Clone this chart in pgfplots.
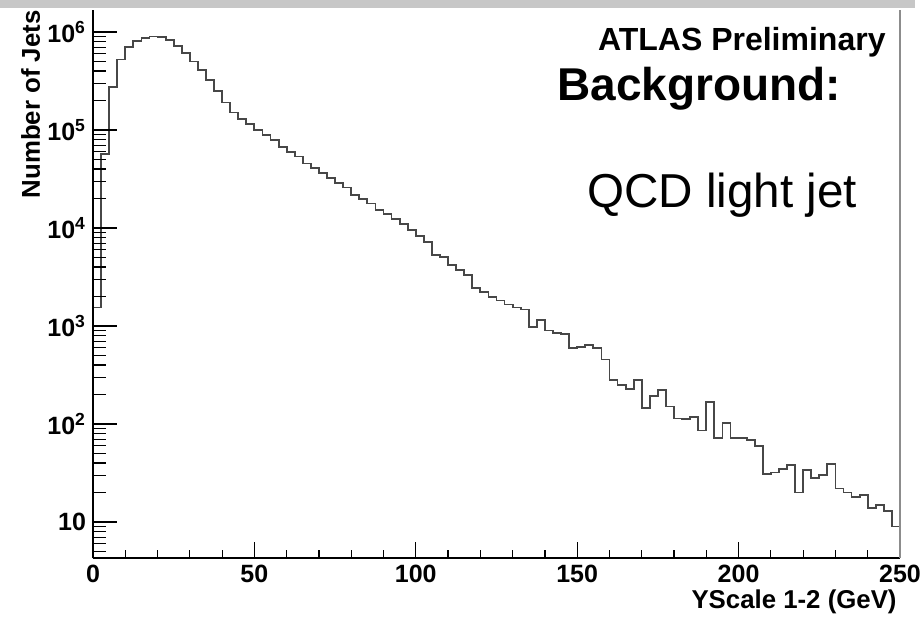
\documentclass[border=0pt]{standalone}
\usepackage{fontspec}
\setmainfont{Liberation Sans}
\usepackage{pgfplots}
\pgfplotsset{compat=1.18}
\begin{document}
\begin{tikzpicture}
\useasboundingbox (-46.5pt,-30pt) rectangle (415pt,279pt);
\fill[black!22] (-46.5pt,275pt) rectangle (411pt,279pt);
\begin{axis}[
  scale only axis, width=403.5pt, height=274pt,
  xmin=0, xmax=250, ymode=log, ymin=4.3, ymax=1.68e6,
  axis x line*=bottom, axis y line*=left,
  ytick=\empty,
  xtick={0,50,100,150,200,250}, minor x tick num=4,
  tick align=inside, major tick length=8pt, minor tick length=4pt,
  tick style={black, line width=0.6pt},
  axis line style={black, line width=0.75pt},
  /pgf/number format/assume math mode=true,
  xticklabel style={font=\fontsize{12.5}{14}\selectfont\bfseries},
  xlabel={YScale 1-2 (GeV)},
  xlabel style={at={(rel axis cs:1,0)}, anchor=base east, inner sep=0pt, xshift=-1.5pt, yshift=-25pt, font=\fontsize{12.9}{15}\selectfont\bfseries},
  clip=false,
]
\addplot[const plot mark left, black!72, line width=0.9pt] coordinates {
(0,1550)(2.5,57500)(5,275000)(7.5,525000)(10,708000)(12.5,813000)(15,871000)(17.5,902000)(20,891000)(22.5,832000)
(25,724000)(27.5,617000)(30,501000)(32.5,407000)(35,324000)(37.5,251000)(40,191000)(42.5,151000)(45,129000)(47.5,115000)
(50,100000)(52.5,89100)(55,79400)(57.5,67600)(60,60300)(62.5,53700)(65,45700)(67.5,40700)(70,36700)(72.5,32700)
(75,28800)(77.5,26000)(80,21900)(82.5,19950)(85,17800)(87.5,15300)(90,13800)(92.5,12300)(95,10970)(97.5,9550)
(100,8318)(102.5,7244)(105,5309)(107.5,5070)(110,4169)(112.5,3715)(115,3311)(117.5,2427)(120,2239)(122.5,1995)
(125,1820)(127.5,1660)(130,1549)(132.5,1479)(135,977)(137.5,1148)(140,902)(142.5,851)(145,832)(147.5,603)
(150,617)(152.5,640)(155,592)(157.5,457)(160,281)(162.5,251)(165,229)(167.5,281)(170,145)(172.5,193)
(175,224)(177.5,151)(180,114)(182.5,112)(185,119)(187.5,86)(190,169)(192.5,72)(195,102)(197.5,72)
(200,72)(202.5,69)(205,60)(207.5,31)(210,32)(212.5,35)(215,38)(217.5,20)(220,34)(222.5,28)
(225,30)(227.5,39)(230,22)(232.5,20)(235,18)(237.5,19)(240,14)(242.5,15)(245,13)(247.5,9)(250,9)
};
\draw[black!45, line width=0.75pt] (rel axis cs:1,0) -- (rel axis cs:1,1);
\node[anchor=base east, inner sep=0pt, font=\fontsize{16}{19}\selectfont\bfseries] at ([xshift=-7pt,yshift=-20pt]rel axis cs:1,1) {ATLAS Preliminary};
\node[anchor=base west, inner sep=0pt, font=\fontsize{23}{27}\selectfont\bfseries] at ([xshift=232pt,yshift=-45pt]rel axis cs:0,1) {Background:};
\node[anchor=base west, inner sep=0pt, font=\fontsize{23.8}{28}\selectfont] at ([xshift=247pt,yshift=-98.5pt]rel axis cs:0,1) {QCD light jet};
\end{axis}
\begin{axis}[
  scale only axis, width=403.5pt, height=274pt,
  xmin=0, xmax=250, ymode=log, ymin=4.3, ymax=1.68e6,
  axis x line=none, axis y line*=left,
  xtick=\empty,
  ytick={10,100,1000,10000,100000,1000000},
  yticklabels={10,10\textsuperscript{2},10\textsuperscript{3},10\textsuperscript{4},10\textsuperscript{5},10\textsuperscript{6}},
  minor ytick={5,6,7,8,9,20,30,40,50,60,70,80,90,200,300,400,500,600,700,800,900,2000,3000,4000,5000,6000,7000,8000,9000,20000,30000,40000,50000,60000,70000,80000,90000,200000,300000,400000,500000,600000,700000,800000,900000},
  tick align=inside, major tick length=12pt, minor tick length=6.5pt,
  tick style={black, line width=0.6pt},
  axis line style={black, line width=0.75pt},
  yticklabel style={font=\fontsize{12.5}{14}\selectfont\bfseries},
  ylabel={Number of Jets},
  ylabel style={at={([xshift=-26.5pt]rel axis cs:0,1)}, anchor=base east, inner sep=0pt, font=\fontsize{12.9}{15}\selectfont\bfseries},
]
\end{axis}
\end{tikzpicture}
\end{document}
